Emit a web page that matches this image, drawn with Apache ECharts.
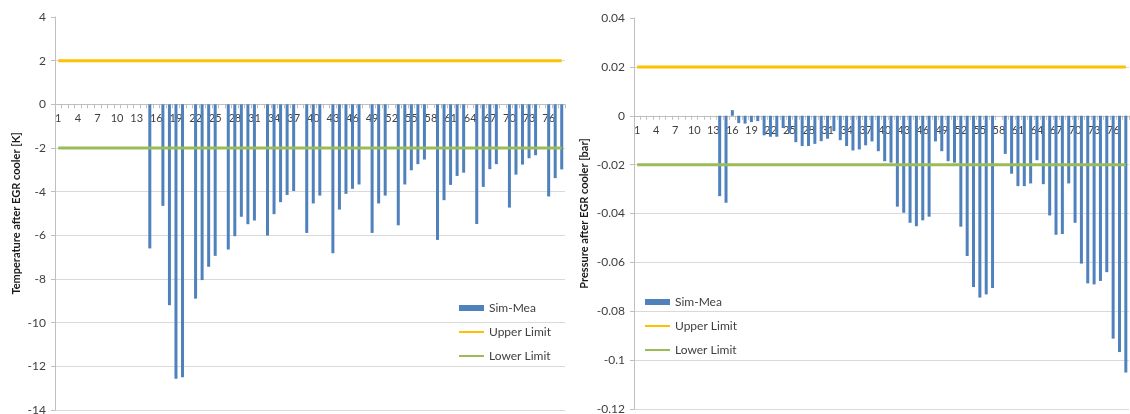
<!DOCTYPE html>
<html>
<head>
<meta charset="utf-8">
<script src="https://cdn.jsdelivr.net/npm/echarts@6/dist/echarts.min.js"></script>
<style>
  html, body { margin: 0; padding: 0; background: #fff; }
  #chart { width: 1130px; height: 414px; }
</style>
</head>
<body>
<div id="chart"></div>
<script>
// operating points 1..78
var points = [];
for (var i = 1; i <= 78; i++) points.push(String(i));

// temperature difference Sim - Mea [K]
var tempDiff = [
  0, 0, 0, 0, 0, 0, 0, 0, 0, 0, 0, 0, 0, 0,
  -6.6, 0, -4.65, -9.2, -12.57, -12.5, 0, -8.9, -8.05, -7.44, -6.94, 0,
  -6.65, -6.04, -5.15, -5.49, -5.32, 0, -6.01, -5.03, -4.48, -4.15, -3.97, 0,
  -5.89, -4.54, -4.18, 0, -6.82, -4.82, -4.1, -3.87, -3.67, 0,
  -5.89, -4.54, -4.18, 0, -5.54, -3.67, -3.02, -2.74, -2.53, 0,
  -6.21, -4.39, -3.69, -3.28, -3.13, 0, -5.48, -3.78, -2.97, -2.74, 0,
  -4.73, -3.22, -2.76, -2.47, -2.33, 0, -4.22, -3.38, -2.98
];

// pressure difference Sim - Mea [bar]
var pressDiff = [
  0, 0, 0, 0, 0, 0, 0, 0, 0, 0, 0, 0, 0,
  -0.0329, -0.0356, 0.0023, -0.003, -0.0032, -0.0026, -0.0022,
  -0.008, -0.0086, -0.0086, -0.005, -0.0072, -0.0108, -0.0124, -0.0124,
  -0.0115, -0.0104, -0.0094, -0.0063, -0.01, -0.0124, -0.0142, -0.0138,
  -0.0121, -0.0105, -0.0145, -0.0186, -0.0192, -0.0372, -0.0397, -0.0438,
  -0.0452, -0.0428, -0.0413, -0.0105, -0.0145, -0.0186, -0.0192, -0.0454,
  -0.0574, -0.0701, -0.0744, -0.0731, -0.0705, 0, -0.0156, -0.0237,
  -0.0288, -0.0288, -0.0277, -0.0182, -0.028, -0.0408, -0.0487, -0.0484,
  -0.0277, -0.0438, -0.0605, -0.0686, -0.069, -0.0676, -0.064, -0.0912,
  -0.0967, -0.1051
];

var tempUpper = 2, tempLower = -2;
var pressUpper = 0.02, pressLower = -0.02;

var tempTitle = 'Temperature after EGR cooler [K]';
var pressTitle = 'Pressure after EGR cooler [bar]';

var font = 'Lato, "Open Sans", sans-serif';
var barColor = '#4F81BD';
var upperColor = '#FFC000';
var lowerColor = '#9BBB59';

var grids = [
  { left: 55, top: 17, width: 510, height: 393, outerBoundsMode: 'none' },
  { left: 634, top: 18, width: 495, height: 391, outerBoundsMode: 'none' }
];

function limitLine(v) {
  return [[points[0], v], [points[points.length - 1], v]];
}

// category axis sits on the zero line of the value axis
function xAxis(idx, min, max) {
  var g = grids[idx];
  return {
    type: 'category',
    gridIndex: idx,
    data: points,
    offset: -g.height * (-min) / (max - min),
    axisLine: { onZero: false, lineStyle: { color: '#bfbfbf' } },
    axisTick: { show: true, interval: 0, length: 4, lineStyle: { color: '#bfbfbf' } },
    axisLabel: { interval: 2, fontSize: 11, color: '#404040', margin: 9, fontFamily: font },
    splitLine: { show: false }
  };
}

function yAxis(idx, min, max, step, name, gap) {
  return {
    type: 'value',
    gridIndex: idx,
    min: min,
    max: max,
    interval: step,
    name: name,
    nameLocation: 'middle',
    nameGap: gap,
    nameTextStyle: { fontSize: 11, fontWeight: 'bold', color: '#1a1a1a', fontFamily: font },
    axisLine: { show: true, lineStyle: { color: '#bfbfbf' } },
    axisTick: { show: true, length: 4, lineStyle: { color: '#bfbfbf' } },
    axisLabel: { fontSize: 12, color: '#404040', margin: 9, fontFamily: font },
    splitLine: { show: true, showMaxLine: false, lineStyle: { color: '#d9d9d9', width: 1 } }
  };
}

function legend(left, top) {
  return {
    orient: 'vertical',
    left: left,
    top: top,
    itemWidth: 25,
    itemHeight: 6,
    itemGap: 10,
    lineStyle: { width: 2 },
    textStyle: { fontSize: 12, color: '#404040', lineHeight: 14, fontFamily: font },
    data: [
      { name: 'Sim-Mea', icon: 'rect' },
      { name: 'Upper Limit' },
      { name: 'Lower Limit' }
    ]
  };
}

function limitSeries(name, idx, value, color) {
  return {
    name: name, type: 'line', xAxisIndex: idx, yAxisIndex: idx, data: limitLine(value),
    symbol: 'none', lineStyle: { color: color, width: 3 },
    itemStyle: { color: 'rgba(0,0,0,0)' }
  };
}

var myChart = echarts.init(document.getElementById('chart'));

option = {
  animation: false,
  backgroundColor: '#fff',
  textStyle: { fontFamily: font },
  grid: grids,
  legend: [legend(453, 296), legend(639, 290)],
  xAxis: [xAxis(0, -14, 4), xAxis(1, -0.12, 0.04)],
  yAxis: [
    yAxis(0, -14, 4, 2, tempTitle, 33),
    yAxis(1, -0.12, 0.04, 0.02, pressTitle, 44)
  ],
  series: [
    { name: 'Sim-Mea', type: 'bar', xAxisIndex: 0, yAxisIndex: 0, data: tempDiff,
      barWidth: 3, itemStyle: { color: barColor } },
    limitSeries('Upper Limit', 0, tempUpper, upperColor),
    limitSeries('Lower Limit', 0, tempLower, lowerColor),
    { name: 'Sim-Mea', type: 'bar', xAxisIndex: 1, yAxisIndex: 1, data: pressDiff,
      barWidth: 3, itemStyle: { color: barColor } },
    limitSeries('Upper Limit', 1, pressUpper, upperColor),
    limitSeries('Lower Limit', 1, pressLower, lowerColor)
  ]
};

myChart.setOption(option);
</script>
</body>
</html>
